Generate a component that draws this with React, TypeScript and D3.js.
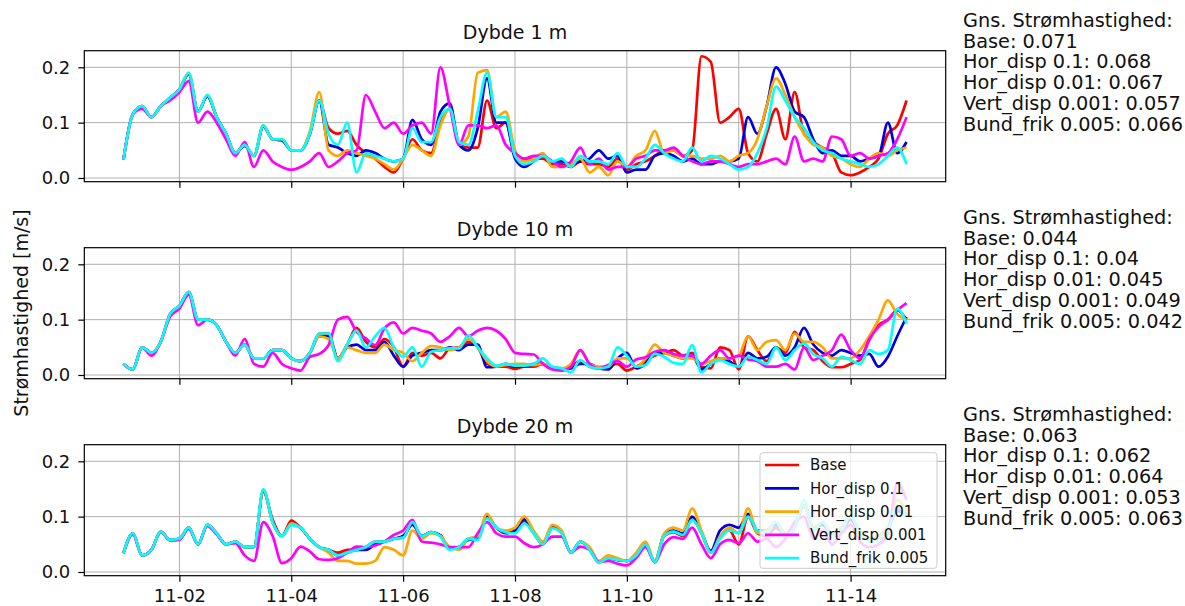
import { useEffect, useRef } from 'react'
import * as d3 from 'd3'

// sample times: every 4 hours from 11-01 00:00 to 11-15 00:00
const hours = d3.range(0, 337, 4)
const tickDays = [2, 4, 6, 8, 10, 12, 14]
const yTicks = [0, 0.1, 0.2]

const seriesNames = ['Base', 'Hor_disp 0.1', 'Hor_disp 0.01', 'Vert_disp 0.001', 'Bund_frik 0.005']
const colors = ['#ff0000', '#0000dd', '#ffa500', '#ff00ff', '#00ffff']
const depthTitles = ['Dybde 1 m', 'Dybde 10 m', 'Dybde 20 m']

const means1 = ['0.071', '0.068', '0.067', '0.057', '0.066']
const means10 = ['0.044', '0.04', '0.045', '0.049', '0.042']
const means20 = ['0.063', '0.062', '0.064', '0.053', '0.063']

// Dybde 1 m
const d1Base = [
  .033, .115, .13, .11, .13, .145, .16, .188, .12, .148,
  .11, .08, .045, .06, .04, .094, .07, .07, .05, .05,
  .08, .14, .09, .08, .085, .06, .045, .035, .02, .01,
  .035, .07, .05, .045, .1, .125, .06, .055, .055, .14,
  .09, .1, .045, .035, .035, .035, .025, .025, .02, .03,
  .025, .025, .02, .035, .015, .025, .03, .04, .05, .05,
  .04, .05, .22, .21, .1, .11, .125, .045, .03, .08,
  .125, .07, .155, .08, .065, .055, .045, .01, .005, .01,
  .02, .035, .08, .095, .14]
const d1Hor1 = [
  .033, .115, .13, .11, .13, .145, .16, .188, .12, .148,
  .11, .08, .045, .058, .04, .093, .07, .068, .05, .05,
  .08, .14, .06, .055, .045, .04, .05, .045, .035, .03,
  .035, .105, .07, .06, .12, .135, .06, .05, .09, .18,
  .1, .1, .035, .02, .03, .04, .03, .03, .025, .03,
  .035, .05, .035, .04, .01, .015, .015, .04, .045, .04,
  .03, .035, .025, .025, .03, .03, .035, .11, .08, .13,
  .2, .17, .12, .11, .07, .045, .05, .04, .04, .03,
  .035, .04, .1, .045, .065]
const d1Hor01 = [
  .033, .115, .13, .11, .13, .145, .16, .19, .12, .15,
  .11, .08, .045, .06, .04, .095, .07, .07, .05, .05,
  .085, .155, .05, .04, .05, .045, .04, .035, .025, .015,
  .035, .06, .05, .04, .095, .125, .06, .075, .19, .195,
  .11, .12, .05, .03, .035, .045, .02, .02, .025, .035,
  .01, .02, .005, .03, .02, .04, .05, .085, .045, .05,
  .04, .04, .035, .035, .04, .03, .04, .045, .07, .13,
  .18, .15, .11, .08, .06, .055, .04, .035, .025, .02,
  .035, .045, .04, .05, .055]
const d1Vert = [
  .033, .115, .125, .11, .13, .14, .155, .175, .1, .12,
  .1, .07, .04, .065, .02, .05, .03, .02, .015, .02,
  .03, .045, .02, .03, .045, .05, .15, .12, .09, .1,
  .08, .095, .1, .08, .2, .13, .06, .095, .095, .09,
  .095, .06, .045, .035, .04, .04, .03, .02, .03, .055,
  .025, .035, .015, .02, .02, .035, .04, .05, .05, .055,
  .04, .03, .025, .03, .03, .025, .02, .025, .025, .03,
  .035, .025, .075, .03, .035, .03, .075, .07, .04, .045,
  .035, .04, .045, .07, .11]
const d1Bund = [
  .033, .115, .13, .11, .13, .145, .16, .19, .12, .15,
  .11, .08, .045, .06, .04, .095, .07, .07, .05, .05,
  .08, .14, .08, .06, .1, .01, .045, .04, .035, .03,
  .035, .09, .065, .065, .11, .125, .065, .06, .12, .19,
  .11, .11, .04, .025, .03, .04, .03, .035, .02, .04,
  .03, .03, .025, .045, .02, .02, .035, .06, .045, .035,
  .03, .055, .03, .04, .035, .025, .015, .02, .045, .09,
  .165, .14, .11, .09, .065, .05, .045, .035, .03, .025,
  .02, .025, .04, .055, .025]

// Dybde 10 m
const d10Base = [
  .02, .01, .05, .04, .06, .11, .125, .15, .1, .1,
  .09, .06, .04, .055, .03, .03, .045, .045, .03, .025,
  .04, .075, .075, .03, .055, .085, .06, .05, .065, .05,
  .015, .04, .035, .04, .03, .048, .05, .06, .05, .02,
  .015, .015, .011, .015, .015, .02, .012, .01, .015, .025,
  .015, .012, .015, .02, .008, .015, .025, .035, .04, .045,
  .035, .04, .015, .012, .05, .045, .01, .07, .045, .025,
  .05, .04, .078, .05, .045, .025, .014, .014, .02, .027,
  .063, .09, .1, .117, .1]
const d10Hor1 = [
  .02, .01, .05, .04, .06, .11, .125, .15, .1, .1,
  .09, .06, .04, .055, .03, .03, .045, .045, .03, .025,
  .04, .07, .07, .03, .05, .055, .045, .045, .06, .035,
  .015, .035, .04, .045, .045, .05, .045, .055, .055, .014,
  .015, .02, .015, .015, .02, .02, .012, .01, .012, .02,
  .02, .012, .01, .03, .04, .012, .02, .04, .04, .035,
  .03, .035, .01, .02, .03, .025, .015, .04, .03, .033,
  .05, .035, .05, .085, .055, .04, .035, .045, .04, .035,
  .038, .015, .033, .07, .105]
const d10Hor01 = [
  .02, .01, .05, .04, .06, .11, .125, .15, .1, .1,
  .09, .06, .04, .055, .03, .03, .045, .045, .03, .025,
  .04, .07, .065, .03, .05, .045, .04, .04, .055, .045,
  .04, .025, .04, .052, .05, .045, .05, .065, .05, .025,
  .015, .018, .02, .02, .018, .02, .015, .012, .02, .045,
  .02, .015, .015, .03, .03, .015, .03, .055, .04, .035,
  .03, .03, .02, .025, .03, .03, .035, .07, .045, .06,
  .063, .045, .075, .06, .06, .05, .03, .03, .03, .045,
  .07, .1, .135, .11, .1]
const d10Vert = [
  .02, .01, .05, .035, .06, .105, .12, .145, .09, .1,
  .09, .06, .035, .065, .02, .015, .04, .02, .012, .008,
  .033, .038, .054, .1, .105, .078, .066, .054, .084, .095,
  .075, .085, .08, .075, .06, .07, .085, .07, .08, .085,
  .08, .065, .04, .038, .037, .02, .01, .008, .015, .045,
  .02, .012, .018, .025, .015, .028, .032, .042, .045, .038,
  .035, .035, .02, .035, .045, .03, .035, .028, .025, .015,
  .015, .02, .01, .05, .027, .035, .045, .073, .045, .03,
  .065, .087, .1, .117, .13]
const d10Bund = [
  .02, .01, .05, .04, .06, .11, .125, .15, .1, .1,
  .09, .06, .04, .055, .03, .03, .045, .045, .03, .025,
  .04, .075, .075, .025, .055, .08, .05, .07, .085, .05,
  .033, .05, .015, .042, .045, .048, .048, .072, .05, .03,
  .017, .02, .017, .017, .02, .03, .015, .012, .005, .027,
  .015, .012, .015, .05, .035, .015, .018, .038, .033, .022,
  .02, .054, .005, .02, .027, .02, .015, .033, .027, .02,
  .05, .027, .045, .057, .038, .03, .015, .033, .027, .02,
  .045, .038, .045, .12, .093]

// Dybde 20 m
const d20Base = [
  .034, .07, .03, .04, .073, .058, .06, .08, .05, .085,
  .07, .05, .055, .045, .045, .145, .095, .065, .093, .08,
  .06, .045, .04, .035, .04, .04, .045, .055, .055, .06,
  .062, .088, .065, .072, .066, .042, .045, .06, .06, .1,
  .08, .072, .072, .09, .07, .05, .08, .07, .035, .055,
  .04, .018, .025, .022, .02, .03, .05, .018, .065, .072,
  .065, .095, .07, .035, .065, .075, .05, .1, .07, .065,
  .08, .065, .08, .12, .08, .085, .065, .07, .095, .07,
  .06, .06, .075, .115, .1]
const d20Hor1 = [
  .034, .07, .03, .04, .073, .058, .06, .08, .05, .085,
  .07, .05, .055, .045, .045, .148, .09, .065, .088, .08,
  .06, .045, .04, .03, .035, .04, .04, .05, .055, .06,
  .065, .085, .065, .072, .066, .042, .045, .058, .06, .1,
  .08, .07, .075, .095, .072, .052, .08, .072, .035, .055,
  .042, .018, .025, .022, .02, .03, .05, .018, .068, .075,
  .07, .1, .072, .038, .075, .085, .08, .105, .075, .075,
  .085, .07, .085, .12, .08, .085, .07, .08, .095, .07,
  .06, .065, .08, .11, .105]
const d20Hor01 = [
  .034, .07, .03, .04, .073, .058, .06, .08, .05, .085,
  .07, .05, .055, .045, .045, .148, .09, .065, .088, .08,
  .06, .045, .035, .02, .02, .015, .015, .02, .045, .04,
  .03, .075, .06, .07, .065, .045, .04, .06, .065, .105,
  .08, .075, .08, .1, .075, .055, .085, .075, .035, .055,
  .045, .02, .03, .025, .02, .035, .055, .02, .07, .08,
  .075, .115, .075, .035, .065, .08, .07, .115, .07, .075,
  .09, .07, .085, .12, .08, .09, .07, .08, .1, .075,
  .06, .065, .08, .13, .11]
const d20Vert = [
  .034, .068, .03, .04, .072, .057, .058, .078, .05, .083,
  .068, .05, .052, .03, .02, .09, .065, .016, .025, .046,
  .037, .023, .022, .025, .035, .046, .045, .048, .055, .067,
  .075, .094, .055, .053, .05, .045, .045, .045, .07, .09,
  .07, .064, .064, .052, .045, .05, .064, .064, .035, .046,
  .04, .018, .02, .015, .012, .025, .045, .018, .05, .063,
  .06, .08, .05, .025, .05, .058, .052, .07, .055, .06,
  .045, .06, .09, .1, .06, .075, .05, .07, .085, .055,
  .045, .05, .07, .16, .13]
const d20Bund = [
  .034, .07, .03, .04, .073, .058, .06, .08, .05, .085,
  .07, .05, .055, .045, .045, .15, .09, .065, .085, .08,
  .06, .045, .04, .03, .035, .04, .045, .055, .055, .06,
  .062, .09, .065, .072, .064, .04, .045, .06, .058, .097,
  .08, .072, .07, .088, .07, .05, .079, .07, .035, .055,
  .04, .017, .025, .022, .02, .03, .05, .018, .065, .073,
  .067, .094, .07, .035, .06, .075, .07, .1, .075, .07,
  .09, .065, .08, .13, .075, .09, .065, .075, .1, .07,
  .055, .06, .075, .12, .1]

const panels = [
  { title: depthTitles[0], series: [d1Base, d1Hor1, d1Hor01, d1Vert, d1Bund], means: means1 },
  { title: depthTitles[1], series: [d10Base, d10Hor1, d10Hor01, d10Vert, d10Bund], means: means10 },
  { title: depthTitles[2], series: [d20Base, d20Hor1, d20Hor01, d20Vert, d20Bund], means: means20 },
]

const W = 1185
const H = 606
const FONT = 'DejaVu Sans, sans-serif'

export default function App() {
  const svgRef = useRef<SVGSVGElement>(null)

  useEffect(() => {
    const svg = svgRef.current
    if (!svg) return
    const root = d3.select(svg)
    root.selectAll('*').remove()

    const HOUR = 3600e3
    const t0 = Date.UTC(2000, 10, 1)
    const times = hours.map(h => new Date(t0 + h * HOUR))
    const left = 84.3, right = 945.7, ph = 131
    const tops = [50.7, 247.7, 444.7]

    const x = d3.scaleUtc()
      .domain([new Date(t0 - 16.8 * HOUR), new Date(t0 + 352.8 * HOUR)])
      .range([left, right])
    const y = d3.scaleLinear().domain([-0.0067, 0.23]).range([ph, 0])
    const tickDates = tickDays.map(d => new Date(Date.UTC(2000, 10, d)))
    const fmt = d3.utcFormat('%m-%d')

    const line = d3.line<number>()
      .x((_, i) => x(times[i]))
      .y(d => y(d))
      .curve(d3.curveMonotoneX)

    panels.forEach((p, pi) => {
      const g = root.append('g').attr('transform', `translate(0,${tops[pi]})`)

      // grid
      g.selectAll('.vg').data(tickDates).join('line')
        .attr('x1', d => x(d)).attr('x2', d => x(d))
        .attr('y1', 0).attr('y2', ph)
        .attr('stroke', '#b0b0b0').attr('stroke-width', 1)
      g.selectAll('.hg').data(yTicks).join('line')
        .attr('x1', left).attr('x2', right)
        .attr('y1', d => y(d)).attr('y2', d => y(d))
        .attr('stroke', '#b0b0b0').attr('stroke-width', 1)

      p.series.forEach((s, si) => {
        g.append('path').datum(s)
          .attr('fill', 'none').attr('stroke', colors[si])
          .attr('stroke-width', 2.7).attr('stroke-linejoin', 'round')
          .attr('d', line)
      })

      g.append('rect')
        .attr('x', left).attr('y', 0).attr('width', right - left).attr('height', ph)
        .attr('fill', 'none').attr('stroke', '#000').attr('stroke-width', 1.2)

      const ya = g.append('g').attr('transform', `translate(${left},0)`)
        .call(d3.axisLeft(y).tickValues(yTicks).tickSize(6).tickPadding(8).tickFormat(d3.format('.1f')))
      const xa = g.append('g').attr('transform', `translate(0,${ph})`)
        .call(d3.axisBottom(x).tickValues(tickDates).tickSize(6).tickPadding(8)
          .tickFormat(d => (pi === 2 ? fmt(d as Date) : '')))
      for (const a of [ya, xa]) {
        a.select('.domain').remove()
        a.selectAll('line').attr('stroke', '#000').attr('stroke-width', 1.2)
        a.selectAll('text').attr('font-family', FONT).attr('font-size', 18).attr('fill', '#111')
      }

      g.append('text')
        .attr('x', (left + right) / 2).attr('y', -11.5)
        .attr('text-anchor', 'middle').attr('font-family', FONT).attr('font-size', 19).attr('fill', '#111')
        .text(p.title)

      const lines = ['Gns. Strømhastighed:', ...seriesNames.map((n, i) => `${n}: ${p.means[i]}`)]
      g.append('g').selectAll('text').data(lines).join('text')
        .attr('x', 963).attr('y', (_, i) => -24 + i * 20.8)
        .attr('font-family', FONT).attr('font-size', 19.3).attr('fill', '#111')
        .text(d => d)
    })

    // legend in the bottom panel
    const lg = root.append('g').attr('transform', 'translate(760,452.7)')
    lg.append('rect')
      .attr('width', 177).attr('height', 115.6).attr('rx', 3)
      .attr('fill', '#fff').attr('fill-opacity', 0.8)
      .attr('stroke', '#cccccc').attr('stroke-width', 1)
    seriesNames.forEach((n, i) => {
      const yy = 12.3 + i * 23.3
      lg.append('line').attr('x1', 5).attr('x2', 39).attr('y1', yy).attr('y2', yy)
        .attr('stroke', colors[i]).attr('stroke-width', 2.7)
      lg.append('text').attr('x', 50).attr('y', yy).attr('dy', '0.35em')
        .attr('font-family', FONT).attr('font-size', 15).attr('fill', '#111')
        .text(n)
    })

    root.append('text')
      .attr('transform', 'translate(28,313) rotate(-90)')
      .attr('text-anchor', 'middle').attr('font-family', FONT).attr('font-size', 19).attr('fill', '#111')
      .text('Strømhastighed [m/s]')
  }, [])

  return (
    <svg ref={svgRef} width={W} height={H}
      style={{ position: 'absolute', left: 0, top: 0, background: '#fff' }} />
  )
}
